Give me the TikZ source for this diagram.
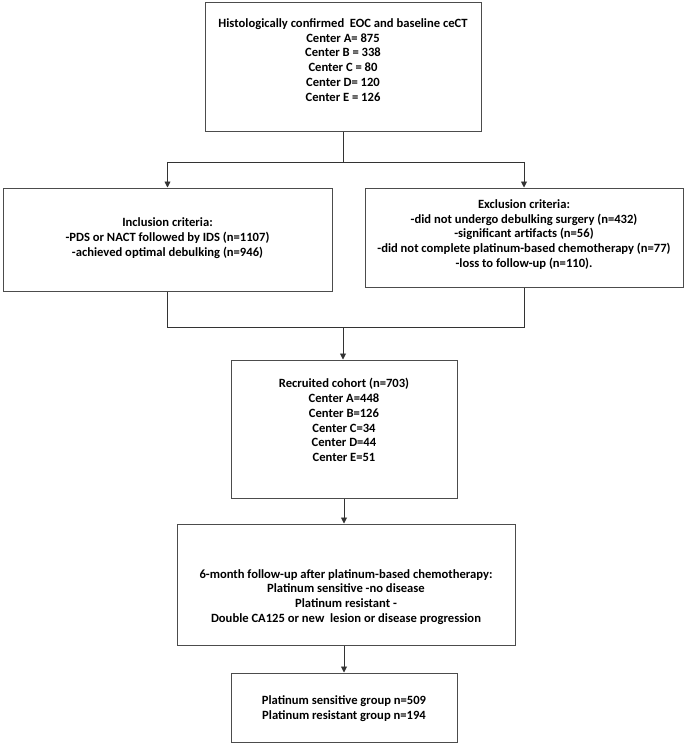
\documentclass[tikz,border=0pt]{standalone}
\usepackage{fontspec}
\setmainfont{Carlito}
\usetikzlibrary{arrows.meta}
\begin{document}
\begin{tikzpicture}[x=1pt,y=-1pt,
  box/.style={draw=black!70,line width=1pt,rectangle,inner sep=0pt},
  txt/.style={align=center,inner sep=0pt,font=\fontsize{12.6}{14.8}\selectfont\bfseries},
  conn/.style={draw=black!80,line width=0.9pt},
  arr/.style={conn,-{Triangle[width=6pt,length=6pt]}}]
\useasboundingbox (0,0) rectangle (685,746);
% boxes
\node[box,minimum width=276pt,minimum height=129pt] (b1) at (343,67.5) {};
\node[box,minimum width=329pt,minimum height=103pt] (b2) at (167.5,239.5) {};
\node[box,minimum width=318pt,minimum height=99pt] (b3) at (524,237.5) {};
\node[box,minimum width=226pt,minimum height=138pt] (b4) at (344,429) {};
\node[box,minimum width=338pt,minimum height=121pt] (b5) at (346,584.5) {};
\node[box,minimum width=226pt,minimum height=69pt] (b6) at (344,707.5) {};
% texts
\node[txt] (t1) at (343,60) {Histologically confirmed\ \ EOC and baseline ceCT\\Center A= 875\\Center B = 338\\Center C = 80\\Center D= 120\\Center E = 126};
\node[txt] (t2) at (167.5,238) {Inclusion criteria:\\-PDS or NACT followed by IDS (n=1107)\\-achieved optimal debulking (n=946)};
\node[txt] (t3) at (524,234.5) {Exclusion criteria:\\-did not undergo debulking surgery (n=432)\\-significant artifacts (n=56)\\-did not complete platinum-based chemotherapy (n=77)\\-loss to follow-up (n=110).};
\node[txt] (t4) at (344,420) {Recruited cohort (n=703)\\Center A=448\\Center B=126\\Center C=34\\Center D=44\\Center E=51};
\node[txt] (t5) at (346,597) {6-month follow-up after platinum-based chemotherapy:\\Platinum sensitive -no disease\\Platinum resistant -\\Double CA125 or new\ \ lesion or disease progression};
\node[txt] (t6) at (344,708.5) {Platinum sensitive group n=509\\Platinum resistant group n=194};
% connectors
\coordinate (s1) at (343,162);
\coordinate (m1) at (343,327);
\draw[conn] (b1.south) -- (s1);
\draw[conn] (b2.north |- s1) -- (b3.north |- s1);
\draw[arr] (b2.north |- s1) -- (b2.north);
\draw[arr] (b3.north |- s1) -- (b3.north);
\draw[conn] (b2.south) -- (b2.south |- m1) -- (b3.south |- m1) -- (b3.south);
\draw[arr] (m1) -- (m1 |- b4.north);
\draw[arr] (b4.south) -- (b4.south |- b5.north);
\draw[arr] (b5.south -| b4.south) -- (b4.south |- b6.north);
\end{tikzpicture}
\end{document}
